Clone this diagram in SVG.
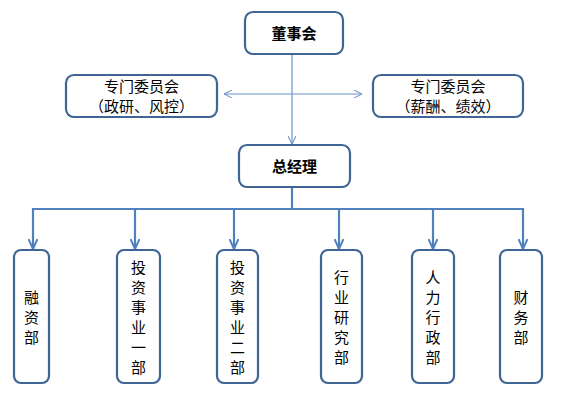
<svg xmlns="http://www.w3.org/2000/svg" width="565" height="405" viewBox="0 0 565 405">
<defs>
<marker id="thin" viewBox="0 0 10 10" refX="10" refY="5" markerWidth="8" markerHeight="8" markerUnits="userSpaceOnUse" orient="auto-start-reverse">
<path d="M0,0 L10,5 L0,10" fill="none" stroke="#6D93CC" stroke-width="1.3"/>
</marker>
<marker id="thick" viewBox="0 0 10 10" refX="10" refY="5" markerWidth="10" markerHeight="10" markerUnits="userSpaceOnUse" orient="auto">
<path d="M0,0.5 L10,5 L0,9.5" fill="none" stroke="#4F81BD" stroke-width="2"/>
</marker>
</defs>
<style>
.box{fill:#FFFFFF;stroke:#3F6595;stroke-width:2.2}
.t{font-family:"Noto Sans CJK SC","Noto Sans",sans-serif;font-size:15px;fill:#000;text-anchor:middle}
.b{font-weight:bold}
.thin{fill:none;stroke:#6D93CC;stroke-width:1.2}
.thick{fill:none;stroke:#4F81BD;stroke-width:2.2}
</style>
<rect width="565" height="405" fill="#FFFFFF"/>
<g id="connectors">
<line class="thin" x1="292" y1="54" x2="292" y2="144" marker-end="url(#thin)"/>
<line class="thin" x1="224" y1="94" x2="362" y2="94" marker-start="url(#thin)" marker-end="url(#thin)"/>
<line class="thick" x1="292" y1="187" x2="292" y2="209"/>
<polyline class="thick" points="33,209 523,209 523,249" marker-end="url(#thick)"/>
<line class="thick" x1="33" y1="208" x2="33" y2="249" marker-end="url(#thick)"/>
<line class="thick" x1="135" y1="209" x2="135" y2="249" marker-end="url(#thick)"/>
<line class="thick" x1="234" y1="209" x2="234" y2="249" marker-end="url(#thick)"/>
<line class="thick" x1="339" y1="209" x2="339" y2="249" marker-end="url(#thick)"/>
<line class="thick" x1="433" y1="209" x2="433" y2="249" marker-end="url(#thick)"/>
</g>
<g id="n-board">
<rect class="box" x="245" y="12" width="98" height="42" rx="8"/>
<text class="t b" x="294" y="38.5">董事会</text>
</g>
<g id="n-committee-left">
<rect class="box" x="66" y="75" width="151" height="42" rx="8"/>
<text class="t" x="141.5" y="92">专门委员会</text>
<text class="t" x="141.5" y="111.5">（政研、风控）</text>
</g>
<g id="n-committee-right">
<rect class="box" x="373" y="75" width="150" height="42" rx="8"/>
<text class="t" x="448" y="92">专门委员会</text>
<text class="t" x="448" y="111.5">（薪酬、绩效）</text>
</g>
<g id="n-gm">
<rect class="box" x="239" y="145" width="111" height="42" rx="8"/>
<text class="t b" x="294.5" y="171.5">总经理</text>
</g>
<g id="n-finance">
<rect class="box" x="14" y="250" width="35" height="133" rx="7"/>
<text class="t"><tspan x="31.5" y="303">融</tspan><tspan x="31.5" y="323">资</tspan><tspan x="31.5" y="343">部</tspan></text>
</g>
<g id="n-invest1">
<rect class="box" x="117" y="250" width="43" height="133" rx="7"/>
<text class="t"><tspan x="138.5" y="273">投</tspan><tspan x="138.5" y="293">资</tspan><tspan x="138.5" y="313">事</tspan><tspan x="138.5" y="333">业</tspan><tspan x="138.5" y="353">一</tspan><tspan x="138.5" y="373">部</tspan></text>
</g>
<g id="n-invest2">
<rect class="box" x="217" y="250" width="41" height="133" rx="7"/>
<text class="t"><tspan x="237.5" y="273">投</tspan><tspan x="237.5" y="293">资</tspan><tspan x="237.5" y="313">事</tspan><tspan x="237.5" y="333">业</tspan><tspan x="237.5" y="353">二</tspan><tspan x="237.5" y="373">部</tspan></text>
</g>
<g id="n-research">
<rect class="box" x="321" y="250" width="41" height="133" rx="7"/>
<text class="t"><tspan x="341.5" y="283">行</tspan><tspan x="341.5" y="303">业</tspan><tspan x="341.5" y="323">研</tspan><tspan x="341.5" y="343">究</tspan><tspan x="341.5" y="363">部</tspan></text>
</g>
<g id="n-hr">
<rect class="box" x="412" y="250" width="42" height="133" rx="7"/>
<text class="t"><tspan x="433" y="283">人</tspan><tspan x="433" y="303">力</tspan><tspan x="433" y="323">行</tspan><tspan x="433" y="343">政</tspan><tspan x="433" y="363">部</tspan></text>
</g>
<g id="n-accounting">
<rect class="box" x="500" y="250" width="42" height="133" rx="7"/>
<text class="t"><tspan x="521" y="303">财</tspan><tspan x="521" y="323">务</tspan><tspan x="521" y="343">部</tspan></text>
</g>
</svg>
